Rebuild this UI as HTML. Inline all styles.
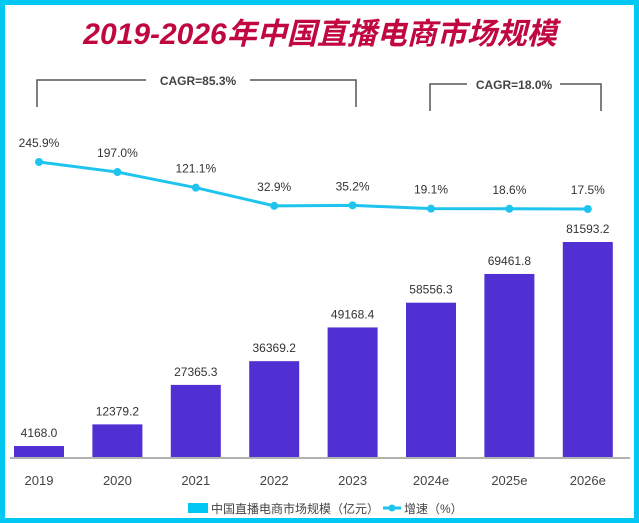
<!DOCTYPE html>
<html><head><meta charset="utf-8"><style>
html,body{margin:0;padding:0}
body{width:639px;height:523px;overflow:hidden;background:#00c8f2;font-family:"Liberation Sans","Noto Sans CJK SC",sans-serif}
#frame{position:absolute;left:5px;top:5px;width:629px;height:513px;background:#fff}
</style></head><body>
<div id="frame"></div>
<svg id="chart" width="639" height="523" style="position:absolute;left:0;top:0">
<text x="320" y="44" text-anchor="middle" font-size="30" font-weight="bold" font-style="italic" fill="#c0073f" font-family="Liberation Sans,Noto Sans CJK SC,sans-serif">2019-2026年中国直播电商市场规模</text>
<g>
<path d="M37,107 V80 H146 M250,80 H356 V107" fill="none" stroke="#555" stroke-width="1.5"/>
<text x="198" y="85" text-anchor="middle" font-size="12" font-weight="bold" fill="#444">CAGR=85.3%</text>
</g>
<g>
<path d="M430,111 V84 H467 M560,84 H601 V111" fill="none" stroke="#555" stroke-width="1.5"/>
<text x="514" y="89" text-anchor="middle" font-size="12" font-weight="bold" fill="#444">CAGR=18.0%</text>
</g>
<g id="bars"></g><g id="line"></g><g id="labels"></g>
<line x1="10" y1="458" x2="630" y2="458" stroke="#999" stroke-width="1.5"/>
<g>
<rect x="188" y="503" width="20" height="10" fill="#00c8f2"/>
<text x="211" y="513" font-size="12" fill="#444">中国直播电商市场规模（亿元）</text>
<line x1="383" y1="508" x2="401" y2="508" stroke="#1ec4ee" stroke-width="3"/>
<circle cx="392" cy="508" r="3.5" fill="#1ec4ee"/>
<text x="404" y="513" font-size="12" fill="#444">增速（%）</text>
</g>
</svg>
<script>
const categories=["2019","2020","2021","2022","2023","2024e","2025e","2026e"];
const marketSize=[4168.0,12379.2,27365.3,36369.2,49168.4,58556.3,69461.8,81593.2];
const growthRate=[245.9,197.0,121.1,32.9,35.2,19.1,18.6,17.5];
const sizeLabels=["4168.0","12379.2","27365.3","36369.2","49168.4","58556.3","69461.8","81593.2"];
const growthLabels=["245.9%","197.0%","121.1%","32.9%","35.2%","19.1%","18.6%","17.5%"];
const NS="http://www.w3.org/2000/svg";
const x0=0,step=78.4,barW=50,base=457;
function xC(i){return x0+step*i+39;}
function yBar(v){return base-v*215/81593.2;}
function yLine(v){return 212.6-0.2058*v;}
function mk(t,a,p){const e=document.createElementNS(NS,t);for(const k in a)e.setAttribute(k,a[k]);p.appendChild(e);return e;}
const gb=document.getElementById('bars'),gl=document.getElementById('line'),gt=document.getElementById('labels');
categories.forEach((c,i)=>{
  const y=yBar(marketSize[i]);
  const r=mk('rect',{x:xC(i)-barW/2,y:y,width:barW,height:base-y,fill:'#5130d3'},gb);
  
  
  const t=mk('text',{x:xC(i),y:y-9,'text-anchor':'middle','font-size':12,fill:'#333'},gt);
  t.textContent=sizeLabels[i];
  
  
  const xl=mk('text',{x:xC(i),y:485,'text-anchor':'middle','font-size':13,fill:'#444'},gt);
  xl.textContent=c;
  
  
});
const pts=growthRate.map((v,i)=>xC(i)+','+yLine(v)).join(' ');
const pl=mk('polyline',{points:pts,fill:'none',stroke:'#1ec4ee','stroke-width':3},gl);


growthRate.forEach((v,i)=>{
  const c=mk('circle',{cx:xC(i),cy:yLine(v),r:4,fill:'#1ec4ee'},gl);
  
  
  const t=mk('text',{x:xC(i),y:yLine(v)-15,'text-anchor':'middle','font-size':12,fill:'#333'},gt);
  t.textContent=growthLabels[i];
  
  
});
</script>
</body></html>
